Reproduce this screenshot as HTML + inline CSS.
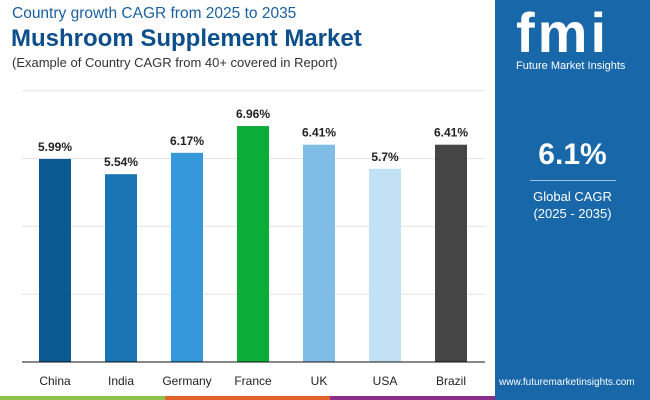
<!DOCTYPE html>
<html><head><meta charset="utf-8"><style>
body{margin:0;width:650px;height:400px;overflow:hidden;font-family:"Liberation Sans",sans-serif;background:#fff;position:relative}
.t{position:absolute;white-space:nowrap}
</style></head><body>
<div class="t" style="left:12px;top:5px;font-size:15.5px;color:#1a5f9e">Country growth CAGR from 2025 to 2035</div>
<div class="t" style="left:11px;top:25px;font-size:24px;font-weight:bold;color:#0d4f8b">Mushroom Supplement Market</div>
<div class="t" style="left:12px;top:55px;font-size:13px;color:#333">(Example of Country CAGR from 40+ covered in Report)</div>
<div style="position:absolute;left:495px;top:0;width:155px;height:400px;background:#1767a9"></div>
<div class="t" style="left:516px;top:4px;font-size:56px;font-weight:bold;color:#fff;letter-spacing:3px;line-height:58px">fmi</div>
<div class="t" style="left:516px;top:60px;font-size:11px;color:#fff">Future Market Insights</div>
<div class="t" style="left:495px;width:155px;text-align:center;top:138px;font-size:30px;font-weight:bold;color:#fff">6.1%</div>
<div style="position:absolute;left:530px;top:180px;width:86px;height:1px;background:#9cc3e6"></div>
<div class="t" style="left:495px;width:155px;text-align:center;top:189px;font-size:13px;color:#fff">Global CAGR</div>
<div class="t" style="left:495px;width:155px;text-align:center;top:206px;font-size:13px;color:#fff">(2025 - 2035)</div>
<div class="t" style="left:499px;top:377px;font-size:10px;color:#fff">www.futuremarketinsights.com</div>
<div style="position:absolute;left:0;top:396px;width:165px;height:4px;background:#8bc34a"></div>
<div style="position:absolute;left:165px;top:396px;width:165px;height:4px;background:#e0622a"></div>
<div style="position:absolute;left:330px;top:396px;width:165px;height:4px;background:#8a2f8a"></div>
<svg id="c" width="495" height="396" style="position:absolute;left:0;top:0"></svg>
<script>
const categories=["China","India","Germany","France","UK","USA","Brazil"];
const values=[5.99,5.54,6.17,6.96,6.41,5.7,6.41];
const labels=["5.99%","5.54%","6.17%","6.96%","6.41%","5.7%","6.41%"];
const gridTicks=[2,4,6,8];
const colors=["#0b5a91","#1a74b4","#3498db","#0aad37","#7fbde6","#c2e1f4","#454545"];
const svg=document.getElementById('c');const NS="http://www.w3.org/2000/svg";
const base=362,k=33.9;
const y=v=>base-v*k;const x=i=>55+i*66;
function mk(t,a){const e=document.createElementNS(NS,t);for(const n in a)e.setAttribute(n,a[n]);svg.appendChild(e);return e;}
gridTicks.forEach(g=>{const l=mk('line',{x1:22,x2:485,y1:y(g),y2:y(g),stroke:'#e3e3e3','stroke-width':1});

});
values.forEach((v,i)=>{
const r=mk('rect',{x:x(i)-16,y:y(v),width:32,height:v*k,fill:colors[i]});


const t=mk('text',{x:x(i),y:y(v)-8,'text-anchor':'middle','font-size':12,'font-weight':'bold',fill:'#222'});t.textContent=labels[i];


const c=mk('text',{x:x(i),y:385,'text-anchor':'middle','font-size':12,fill:'#222'});c.textContent=categories[i];


});
const ax=mk('line',{x1:22,x2:485,y1:base,y2:base,stroke:'#111','stroke-width':1});


</script>
</body></html>
